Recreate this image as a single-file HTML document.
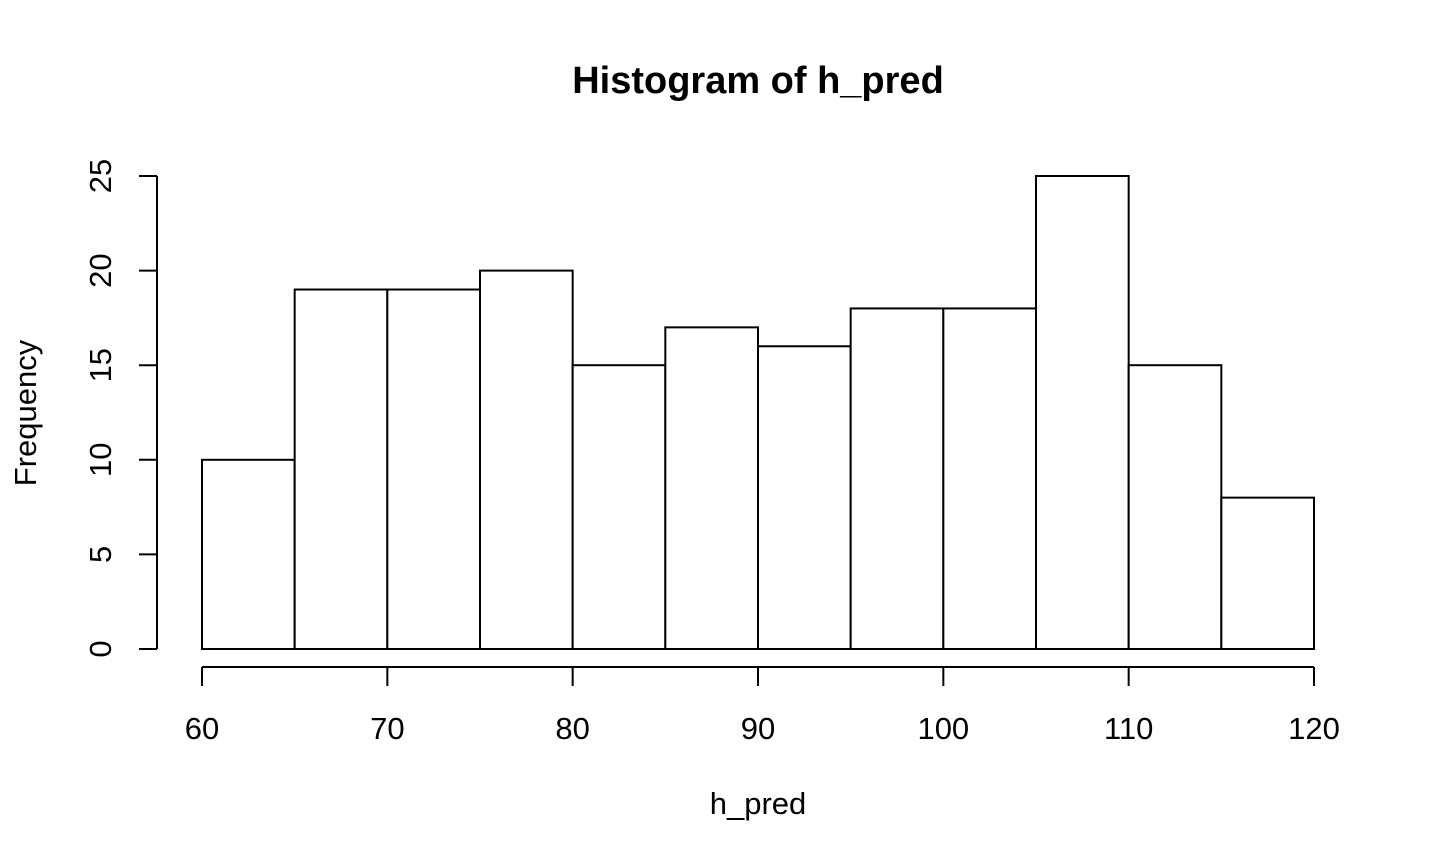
<!DOCTYPE html>
<html><head><meta charset="utf-8">
<style>
html,body{margin:0;padding:0;background:#fff;}
svg{display:block;}
text{font-family:"Liberation Sans",Arial,sans-serif;fill:#000;}
</style></head>
<body>
<svg id="chart" width="1440" height="864" viewBox="0 0 1440 864" xmlns="http://www.w3.org/2000/svg">
<text x="758" y="93" font-size="38" font-weight="bold" text-anchor="middle">Histogram of h_pred</text>
<text x="758" y="814" font-size="31" text-anchor="middle">h_pred</text>
<text x="0" y="0" font-size="31" text-anchor="middle" transform="translate(36,413) rotate(-90)">Frequency</text>
<g id="bars"></g>
<g id="xaxis"></g>
<g id="yaxis"></g>
</svg>
<script>
const binStarts = [60,65,70,75,80,85,90,95,100,105,110,115];
const binWidth = 5;
const counts = [10,19,19,20,15,17,16,18,18,25,15,8];
const xTicks = [60,70,80,90,100,110,120];
const yTicks = [0,5,10,15,20,25];

const NS = "http://www.w3.org/2000/svg";
function X(v){ return 202 + (v-60)*(1314-202)/60; }
function Y(v){ return 649 - v*(649-176)/25; }
function mk(tag, attrs, parent){
  const e = document.createElementNS(NS, tag);
  for (const k in attrs) e.setAttribute(k, attrs[k]);
  parent.appendChild(e);
  return e;
}
const bars = document.getElementById('bars');
binStarts.forEach((s,i)=>{
  const r = mk('rect',{x:X(s),y:Y(counts[i]),width:X(s+binWidth)-X(s),height:Y(0)-Y(counts[i]),fill:'#fff',stroke:'#000','stroke-width':2},bars);
  
  
});
const xa = document.getElementById('xaxis');
const xl = mk('line',{x1:X(xTicks[0]),x2:X(xTicks[xTicks.length-1]),y1:667,y2:667,stroke:'#000','stroke-width':2},xa);


xTicks.forEach(t=>{
  mk('line',{x1:X(t),x2:X(t),y1:667,y2:686,stroke:'#000','stroke-width':2},xa);
  const tx = mk('text',{x:X(t),y:739,'font-size':31,'text-anchor':'middle'},xa);
  tx.textContent = t;
  
  
});
const ya = document.getElementById('yaxis');
const yl = mk('line',{x1:157,x2:157,y1:Y(yTicks[0]),y2:Y(yTicks[yTicks.length-1]),stroke:'#000','stroke-width':2},ya);


yTicks.forEach(t=>{
  mk('line',{x1:139,x2:157,y1:Y(t),y2:Y(t),stroke:'#000','stroke-width':2},ya);
  const tx = mk('text',{x:0,y:0,'font-size':31,'text-anchor':'middle',transform:'translate(111,'+Y(t)+') rotate(-90)'},ya);
  tx.textContent = t;
  
  
});
</script>
</body></html>
